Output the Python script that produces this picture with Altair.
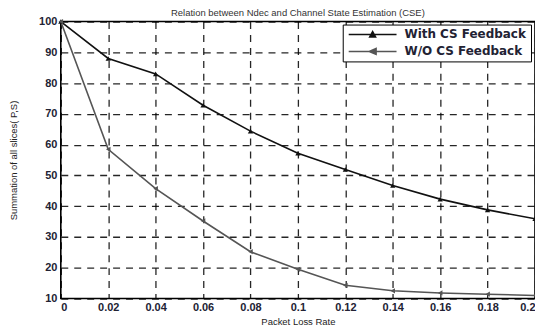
import altair as alt
import pandas as pd

plr = [0, 0.02, 0.04, 0.06, 0.08, 0.10, 0.12, 0.14, 0.16, 0.18, 0.20]
with_cs = [100, 88, 83, 72.8, 64.4, 57.2, 51.9, 46.7, 42.3, 38.8, 35.9]
without_cs = [100, 58.5, 45.7, 35.2, 25.2, 19.5, 14.3, 12.5, 11.8, 11.4, 11.0]
series_names = ["With CS Feedback", "W/O CS Feedback"]
x_ticks = [0, 0.02, 0.04, 0.06, 0.08, 0.1, 0.12, 0.14, 0.16, 0.18, 0.2]
y_ticks = [10, 20, 30, 40, 50, 60, 70, 80, 90, 100]

rows = []
for x, a, b in zip(plr, with_cs, without_cs):
    rows.append({"x": x, "y": a, "s": series_names[0], "m": series_names[0], "L": series_names[0]})
    rows.append({"x": x, "y": b, "s": series_names[1], "m": series_names[1], "L": series_names[1]})
df = pd.DataFrame(rows)

FONT = "Liberation Sans"
COLORS = ["#111111", "#555555"]
# legend glyphs: a line with the series marker in its middle
LEG_PATHS = ["M-4.8,0H4.8M-0.6,0.5L0,-0.6L0.6,0.5Z",
             "M-4.8,0H4.8M0.7,-0.6L-0.7,0L0.7,0.6Z"]

xenc = alt.X("x:Q", scale=alt.Scale(domain=[0, 0.2], nice=False),
             axis=alt.Axis(values=x_ticks, title="Packet Loss Rate", format="~g",
                           grid=True, gridDash=[7, 6], gridColor="#000", gridWidth=1.3,
                           gridOpacity=0.85, ticks=False, labelPadding=3,
                           labelOverlap=False, labelBound=False, domain=False, titlePadding=4))
yenc = alt.Y("y:Q", scale=alt.Scale(domain=[10, 100], nice=False),
             axis=alt.Axis(values=y_ticks, title="Summation of all slices( P,S)",
                           grid=True, gridDash=[7, 6], gridColor="#000", gridWidth=1.3,
                           gridOpacity=0.85, ticks=False, labelPadding=4,
                           labelOverlap=False, labelBound=False, domain=False, titlePadding=20))

leg = alt.Legend(title=None, orient="none", legendX=283, legendY=3,
                 symbolSize=100, symbolStrokeWidth=1.5, symbolOpacity=1,
                 symbolOffset=20, labelOffset=26,
                 fillColor="white", strokeColor="#000", padding=4,
                 labelFontSize=12, labelFont="DejaVu Sans", labelFontWeight="bold",
                 labelColor="#223", rowPadding=5, labelLimit=250)

lines = alt.Chart(df).mark_line(strokeWidth=1.6).encode(
    x=xenc, y=yenc,
    color=alt.Color("s:N", scale=alt.Scale(domain=series_names, range=COLORS), legend=None))
points = alt.Chart(df).mark_point(filled=True, size=28, opacity=1).encode(
    x=xenc, y=yenc,
    fill=alt.Fill("m:N", scale=alt.Scale(domain=series_names, range=COLORS), legend=None),
    shape=alt.Shape("m:N", scale=alt.Scale(domain=series_names, range=["triangle-up", "triangle-left"]), legend=None))
legend_layer = alt.Chart(df).transform_filter("false").mark_point(filled=False, opacity=1).encode(
    x=xenc, y=yenc,
    stroke=alt.Stroke("L:N", scale=alt.Scale(domain=series_names, range=COLORS), legend=leg),
    fill=alt.Fill("L:N", scale=alt.Scale(domain=series_names, range=COLORS), legend=leg),
    shape=alt.Shape("L:N", scale=alt.Scale(domain=series_names, range=LEG_PATHS), legend=leg))

chart = (lines + points + legend_layer).resolve_scale(
    color="independent", fill="independent", shape="independent", stroke="independent").properties(
    width=476, height=278,
    title=alt.TitleParams("Relation between Ndec and Channel State Estimation (CSE)",
                          fontSize=9.5, font=FONT, fontWeight="normal", color="#333", offset=1, dy=3),
    autosize=alt.AutoSizeParams(type="none"),
    padding={"left": 53, "top": 13, "right": 0, "bottom": 33},
).configure_view(stroke="#000", strokeWidth=1.6).configure_axis(
    labelFont=FONT, labelFontSize=11, labelFontWeight="bold", labelColor="#223",
    titleFont=FONT, titleFontSize=9.5, titleFontWeight="normal", titleColor="#222")

chart.save("out.html", embed_options={"renderer": "svg", "actions": False})
